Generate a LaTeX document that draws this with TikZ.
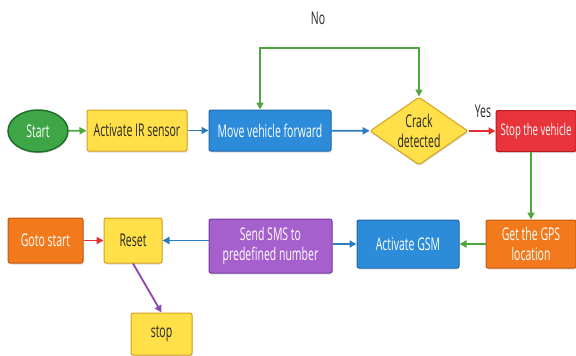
\documentclass[tikz,border=0pt]{standalone}
\usepackage{fontspec}
\setmainfont{Open Sans}[FakeStretch=0.6]
\usetikzlibrary{arrows.meta,positioning,shapes.geometric,shadows}
\definecolor{startfill}{RGB}{62,166,70}
\definecolor{startline}{RGB}{30,112,40}
\definecolor{yfill}{RGB}{255,224,72}
\definecolor{yline}{RGB}{214,160,30}
\definecolor{bfill}{RGB}{44,140,218}
\definecolor{bline}{RGB}{30,104,170}
\definecolor{rfill}{RGB}{232,52,58}
\definecolor{rline}{RGB}{180,28,32}
\definecolor{ofill}{RGB}{242,122,28}
\definecolor{oline}{RGB}{196,88,16}
\definecolor{pfill}{RGB}{166,96,206}
\definecolor{pline}{RGB}{118,60,160}
\definecolor{agreen}{RGB}{78,166,62}
\definecolor{ablue}{RGB}{44,124,192}
\definecolor{ared}{RGB}{226,48,48}
\definecolor{apurple}{RGB}{140,70,176}
\tikzset{
  box/.style={
    draw,
    line width=1pt,
    rounded corners=2pt,
    align=center,
    inner sep=2pt,
    font=\fontsize{17.5}{20}\selectfont,
    drop shadow={shadow xshift=0.5pt, shadow yshift=-1.5pt, opacity=0.25}
  },
  yellowbox/.style={box, fill=yfill, draw=yline, text=black!85},
  bluebox/.style={box, fill=bfill, draw=bline, text=white},
  redbox/.style={box, fill=rfill, draw=rline, text=white},
  orangebox/.style={box, fill=ofill, draw=oline, text=white},
  purplebox/.style={box, fill=pfill, draw=pline, text=white},
  flow/.style={-{Triangle[length=7pt,width=7pt]}, line width=1.8pt},
  lbl/.style={font=\fontsize{17.5}{20}\selectfont, text=black!85}
}

\begin{document}
\begin{tikzpicture}[x=1pt, y=-1pt]
  \useasboundingbox (0,0) rectangle (576,356);
  % top row
  \node[box, ellipse, fill=startfill, draw=startline, line width=1.5pt, text=white,
        minimum width=60pt, minimum height=42pt] (start) at (38,131) {Start};
  \node[yellowbox, minimum width=100pt, minimum height=41pt] (irsensor) at (137,130.5) {Activate IR sensor};
  \node[bluebox, minimum width=122pt, minimum height=41pt] (move) at (270,130.5) {Move vehicle forward};
  \node[box, diamond, aspect=1.44, inner sep=0pt, fill=yfill, draw=yline, text=black!85,
        minimum width=98pt, minimum height=68pt] (crack) at (419,131) {Crack\\detected};
  \node[redbox, minimum width=80pt, minimum height=41pt, font=\fontsize{16}{19}\selectfont] (stopveh) at (536,131) {Stop the vehicle};
  % bottom row
  \node[orangebox, minimum width=90pt, minimum height=48pt] (gps) at (531,244) {Get the GPS\\location};
  \node[bluebox, minimum width=102pt, minimum height=48pt] (gsm) at (408,244) {Activate GSM};
  \node[purplebox, minimum width=123pt, minimum height=54pt] (sms) at (270.5,246) {Send SMS to\\predefined number};
  \node[yellowbox, minimum width=58pt, minimum height=45pt] (reset) at (133,240.5) {Reset};
  \node[orangebox, minimum width=75pt, minimum height=45pt] (gotostart) at (45.5,240.5) {Goto start};
  \node[yellowbox, minimum width=61pt, minimum height=42pt] (stopnode) at (161.5,334) {stop};
  % labels
  \node[lbl] (nolbl) at (318,18) {No};
  \node[lbl] (yeslbl) at (483,111) {Yes};
  \coordinate (looptop) at (340,48);
  % connectors
  \draw[flow, agreen] (start) -- (irsensor);
  \draw[flow, ablue] (irsensor) -- (move);
  \draw[flow, ablue] (move) -- (crack);
  \draw[flow, ared] (crack) -- (stopveh);
  \draw[flow, agreen, {Triangle[length=7pt,width=7pt]}-{Triangle[length=7pt,width=7pt]}]
    (crack.north) |- (looptop) -| ([xshift=-10pt]move.north);
  \draw[flow, agreen] (stopveh.south -| gps.north) -- (gps.north);
  \draw[flow, agreen] (gps) -- (gsm);
  \draw[flow, ablue] (sms.east |- gsm) -- (gsm.west);
  \draw[flow, ablue] (sms.west |- reset) -- (reset.east);
  \draw[flow, ared] (gotostart) -- (reset);
  \draw[flow, apurple] (reset.south) -- (stopnode.north);
\end{tikzpicture}
\end{document}
